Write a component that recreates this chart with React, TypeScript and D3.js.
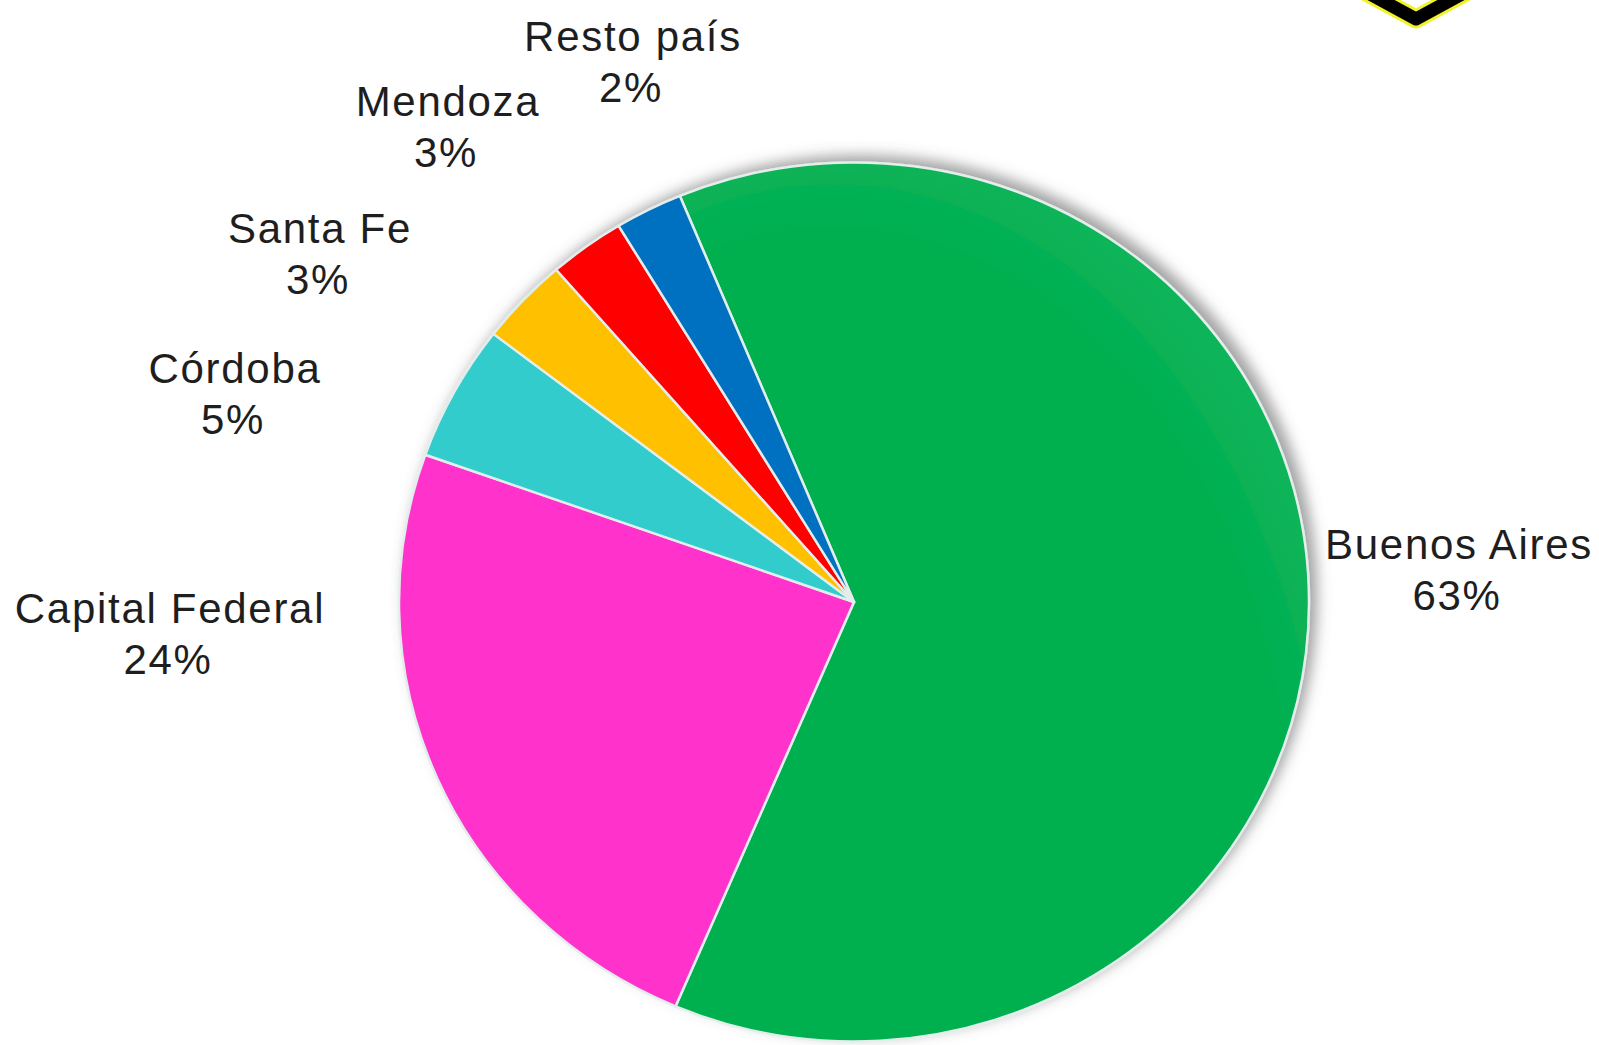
import React from 'react';
import * as d3 from 'd3';

// Data (share of total, %)
const provinces = ['Buenos Aires', 'Capital Federal', 'Córdoba', 'Santa Fe', 'Mendoza', 'Resto país'];
const shares = [62.6, 24.0, 5.0, 3.2, 2.7, 2.4];
const sliceColors = ['#00b050', '#ff33cc', '#33cccc', '#ffc000', '#ff0000', '#0070c0'];

// label block centres, offset from the pie centre
const labelOffsets: [number, number][] = [
  [605, -33],
  [-684, 31],
  [-619, -209],
  [-534, -349],
  [-406, -476],
  [-221, -541],
];

const W = 1599;
const H = 1045;
const cx = 854;
const cy = 602;
const radius = 455;
const squash = 0.966;
const startDeg = -22.5;

type Row = { name: string; value: number; color: string; offset: [number, number] };

const App = () => {
  const rows: Row[] = provinces.map((name, i) => ({
    name,
    value: shares[i],
    color: sliceColors[i],
    offset: labelOffsets[i],
  }));
  const total = d3.sum(shares);

  const start = (startDeg * Math.PI) / 180;
  const pie = d3.pie<Row>()
    .sort(null)
    .value(d => d.value)
    .startAngle(start)
    .endAngle(start + Math.PI * 2);
  const arcs = pie(rows);
  const arc = d3.arc<d3.PieArcDatum<Row>>().innerRadius(0).outerRadius(radius);
  const pct = d3.format('.0f');

  return (
    <svg
      width={W}
      height={H}
      style={{ position: 'absolute', left: 0, top: 0, background: '#fff' }}
    >
      <defs>
        <filter id="pieShadow" x="-10%" y="-10%" width="120%" height="120%">
          <feDropShadow dx="7" dy="-6" stdDeviation="7" floodColor="#555" floodOpacity="0.55" />
        </filter>
        <radialGradient id="sheen" cx="25%" cy="80%" r="100%">
          <stop offset="0.72" stopColor="#fff" stopOpacity="0" />
          <stop offset="1" stopColor="#fff" stopOpacity="0.13" />
        </radialGradient>
      </defs>

      {/* logo fragment, top right */}
      <g fill="none" strokeLinecap="round" strokeLinejoin="round">
        <path d="M1346,-19 L1416,19 L1486,-19" stroke="#f2f22a" strokeWidth={19} />
        <path d="M1346,-19 L1416,19 L1486,-19" stroke="#000" strokeWidth={13} />
      </g>

      <g filter="url(#pieShadow)">
        <g transform={`translate(${cx},${cy}) scale(1,${squash})`}>
          {arcs.map(a => (
            <path
              key={a.data.name}
              d={arc(a) ?? ''}
              fill={a.data.color}
              stroke="#e3eeec"
              strokeWidth={2.5}
              strokeLinejoin="round"
            />
          ))}
          <path
            d={arc(arcs[0]) ?? ''}
            fill="url(#sheen)"
            style={{ pointerEvents: 'none' }}
          />
        </g>
      </g>

      <g
        fontFamily="'Liberation Sans', Arial, sans-serif"
        fontSize={42}
        fill="#1e1e1e"
        textAnchor="middle"
        letterSpacing={1.7}
      >
        {arcs.map(a => {
          const x = cx + a.data.offset[0];
          const y = cy + a.data.offset[1];
          return (
            <text key={a.data.name}>
              <tspan x={x} y={y - 10.5}>{a.data.name}</tspan>
              <tspan x={x - 2} y={y + 40.5}>{pct((a.data.value / total) * 100)}%</tspan>
            </text>
          );
        })}
      </g>
    </svg>
  );
};

export default App;
